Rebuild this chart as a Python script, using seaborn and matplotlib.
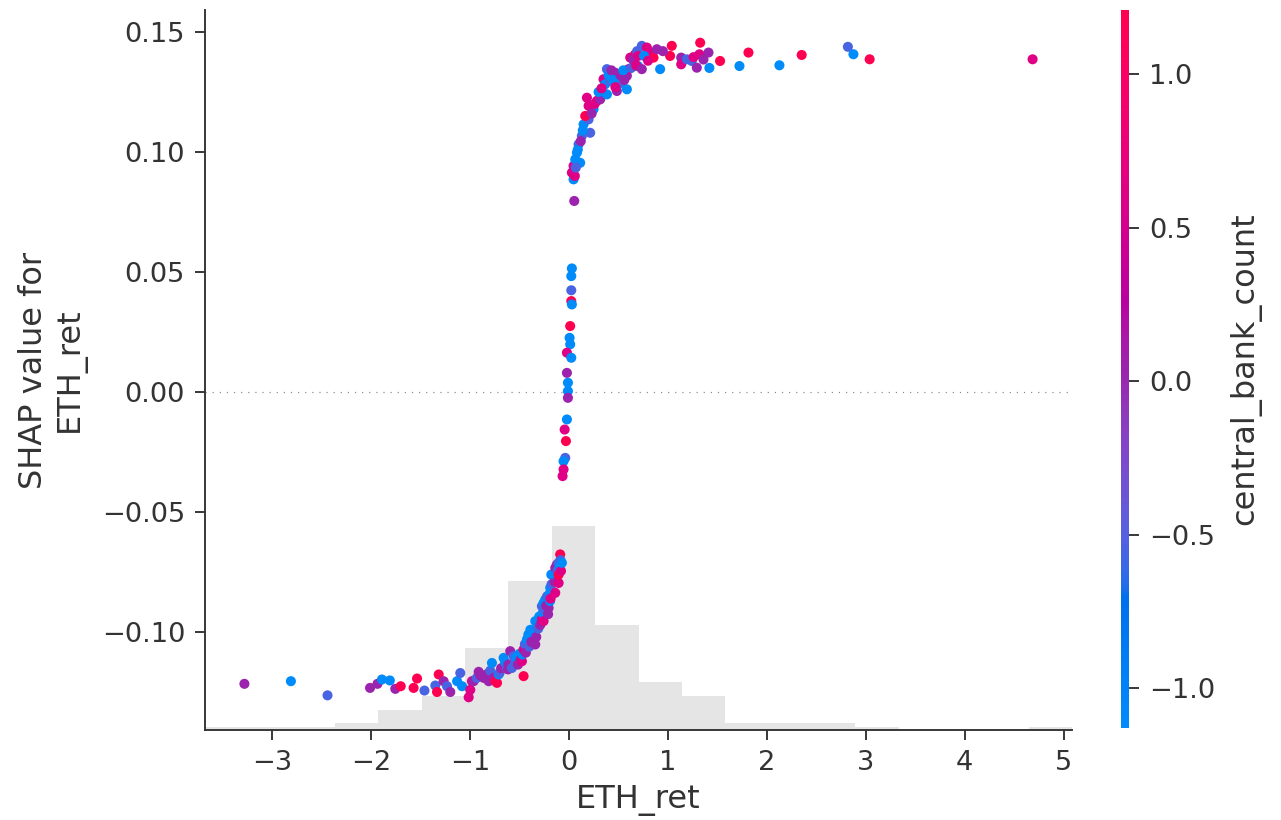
import numpy as np
import pandas as pd
import matplotlib
matplotlib.use("Agg")
import matplotlib.pyplot as plt
from matplotlib.colors import LinearSegmentedColormap, Normalize
from matplotlib.cm import ScalarMappable
import seaborn as sns

# ---- data: ETH return (x), SHAP value for ETH_ret (y), central_bank_count (colour) ----
eth_ret = [
    # far left tail
    -3.28, -2.81, -2.44, -2.01, -1.935, -1.89, -1.81, -1.755, -1.70, -1.57, -1.535,
    -1.46, -1.35, -1.333, -1.316, -1.266, -1.232, -1.199, -1.13, -1.098, -1.08,
    # lower plateau
    -1.013, -0.997, -0.98, -0.963, -0.93, -0.912, -0.895, -0.862, -0.845, -0.83, -0.811, -0.795,
    -0.778, -0.761, -0.744, -0.727, -0.71, -0.70, -0.685, -0.66, -0.645, -0.626, -0.615, -0.612,
    # lower rise
    -0.593, -0.576, -0.559, -0.545, -0.53, -0.515, -0.50, -0.49, -0.475, -0.47, -0.458, -0.458,
    -0.445, -0.435, -0.424, -0.41, -0.40, -0.39, -0.38, -0.357, -0.34, -0.34, -0.33, -0.32,
    -0.31, -0.30, -0.29, -0.273, -0.273, -0.265, -0.256, -0.256, -0.245, -0.239, -0.23, -0.22,
    -0.205, -0.21, -0.195, -0.189, -0.19, -0.185, -0.178, -0.175,
    # top of lower branch
    -0.155, -0.145, -0.138, -0.138, -0.13, -0.121, -0.121, -0.115, -0.104, -0.104, -0.104,
    -0.095, -0.088, -0.085, -0.08, -0.071,
    # vertical strip around zero
    0.03, 0.024, 0.024, 0.024, 0.03, 0.013, 0.007, 0.013, -0.02, 0.024, -0.02, -0.01, -0.01,
    -0.01, -0.02, -0.043, -0.03, -0.037, -0.054, -0.054, -0.064,
    # upper rise
    0.054, 0.047, 0.03, 0.047, 0.114, 0.064, 0.081, 0.098, 0.131, 0.215, 0.148, 0.199, 0.165,
    0.249, 0.199, 0.182, 0.06, 0.07, 0.09, 0.12, 0.14, 0.23, 0.26,
    # upper bend
    0.283, 0.316, 0.35, 0.367, 0.384, 0.384, 0.418, 0.468, 0.485, 0.502, 0.535, 0.586, 0.586,
    0.603, 0.62, 0.67, 0.698, 0.30, 0.33, 0.40, 0.43, 0.45, 0.47, 0.52, 0.55, 0.56, 0.63, 0.65,
    0.68, 0.69, 0.70,
    # upper plateau
    0.737, 0.737, 0.788, 0.822, 0.855, 0.889, 0.922, 1.023, 1.04, 1.135, 1.135, 0.76, 0.80, 0.95,
    1.192, 1.242, 1.26, 1.293, 1.32, 1.327, 1.36, 1.411, 1.42, 1.528,
    # far right tail
    1.724, 1.815, 2.128, 2.353, 2.82, 2.876, 3.04, 4.687,
]

shap_eth_ret = [
    -0.1215, -0.1204, -0.1263, -0.1232, -0.1215, -0.1197, -0.1201, -0.1236, -0.1225, -0.1232, -0.1193,
    -0.1243, -0.1222, -0.1249, -0.1176, -0.1204, -0.1225, -0.1249, -0.1204, -0.1170, -0.1225,
    -0.1271, -0.1240, -0.1204, -0.1204, -0.1190, -0.1165, -0.1180, -0.1190, -0.1190, -0.1175, -0.1204, -0.1160,
    -0.1128, -0.1190, -0.1204, -0.1211, -0.1176, -0.1169, -0.1150, -0.1107, -0.1125, -0.1149, -0.1155, -0.1135,
    -0.1079, -0.1149, -0.1100, -0.1120, -0.1105, -0.1135, -0.1090, -0.1115, -0.1121, -0.1093, -0.1183, -0.1072,
    -0.1050, -0.1085, -0.1030, -0.1010, -0.1060, -0.0990, -0.1040, -0.0996, -0.1051, -0.0954, -0.1020, -0.0965,
    -0.0985, -0.0935, -0.0970, -0.0947, -0.0892, -0.0920, -0.0878, -0.0954, -0.0905, -0.0864, -0.0890, -0.0850,
    -0.0899, -0.0925, -0.0840, -0.0815, -0.0870, -0.0860, -0.0760, -0.0800,
    -0.0760, -0.0790, -0.0732, -0.0836, -0.0770, -0.0718, -0.0788, -0.0745, -0.0795, -0.0711, -0.0760,
    -0.0725, -0.0676, -0.0700, -0.0745, -0.0711,
    0.0515, 0.0483, 0.0424, 0.0379, 0.0365, 0.0275, 0.0226, 0.0199, 0.0164, 0.0143, 0.0080, 0.0039, 0.0004,
    -0.0024, -0.0114, -0.0156, -0.0204, -0.0274, -0.0288, -0.0322, -0.0350,
    0.0796, 0.0886, 0.0914, 0.0942, 0.0955, 0.0969, 0.0997, 0.1032, 0.1067, 0.1080, 0.1115, 0.1136, 0.1150,
    0.1178, 0.1192, 0.1226, 0.0900, 0.0935, 0.1010, 0.1045, 0.1090, 0.1160, 0.1200,
    0.1213, 0.1219, 0.1303, 0.1282, 0.1345, 0.1240, 0.1296, 0.1330, 0.1254, 0.1282, 0.1289, 0.1317, 0.1261,
    0.1345, 0.1393, 0.1407, 0.1358, 0.1250, 0.1265, 0.1320, 0.1340, 0.1300, 0.1270, 0.1320, 0.1340, 0.1300,
    0.1350, 0.1385, 0.1360, 0.1420, 0.1400,
    0.1442, 0.1345, 0.1435, 0.1414, 0.1393, 0.1428, 0.1345, 0.1400, 0.1442, 0.1393, 0.1365, 0.1400, 0.1380, 0.1420,
    0.1386, 0.1379, 0.1395, 0.1351, 0.1407, 0.1455, 0.1385, 0.1414, 0.1350, 0.1379,
    0.1358, 0.1414, 0.1361, 0.1404, 0.1438, 0.1407, 0.1386, 0.1386,
]

central_bank_count = [
    0.04, -1.13, -0.55, 0.04, 0.04, -1.13, -1.13, 0.04, 1.21, 1.21, 1.21,
    -0.55, -0.55, 1.21, 1.21, 0.04, -0.55, 0.04, -1.13, -0.55, -1.13,
    0.63, 0.63, 0.63, 0.04, -0.55, 0.04, 0.04, 0.04, 0.04, 0.04, 0.04, -0.55,
    -1.13, 0.04, 1.21, 1.21, -1.13, -0.55, 0.04, -1.13, -1.13, -0.55, 0.04, 0.04,
    0.04, -0.55, -0.55, -0.55, -1.13, 0.04, -1.13, 0.04, 0.63, -1.13, 1.21, 0.63,
    -0.55, 0.04, -1.13, -1.13, -0.55, -1.13, 0.04, -1.13, 0.04, -1.13, 0.04, -1.13,
    -0.55, -1.13, 0.04, 0.63, -0.55, -1.13, -1.13, 0.63, -0.55, -1.13, 0.04, -0.55,
    0.04, 0.04, -1.13, -1.13, -1.13, 0.63, -1.13, -0.55,
    -1.13, 0.04, 0.04, 0.63, -1.13, 0.04, 0.04, -0.55, 0.63, -0.55, 1.21,
    -1.13, 1.21, -0.55, 0.63, -1.13,
    -1.13, -1.13, -0.55, 1.21, -1.13, 1.21, -1.13, -1.13, 0.63, -1.13, 0.04, -1.13, -1.13,
    0.04, -1.13, 0.63, 1.21, -0.55, -1.13, 0.63, 0.63,
    0.04, -1.13, 0.63, 0.63, -1.13, -1.13, -1.13, -0.55, -0.55, -0.55, -1.13, -0.55, 1.21,
    -1.13, 0.63, 0.63, 0.63, -0.55, -1.13, 0.04, -1.13, 0.04, 0.63,
    0.63, 0.04, 0.63, -1.13, -0.55, -1.13, -0.55, 0.04, 0.04, -1.13, -0.55, 0.04, -1.13,
    0.63, 0.63, 0.63, -1.13, -1.13, 0.63, -1.13, 0.04, -1.13, 0.63, 0.04, -1.13, 0.04,
    -0.55, 0.04, 0.63, -0.55, 0.63,
    -0.55, 0.04, 0.63, 0.63, 1.21, 0.04, -1.13, 1.21, 1.21, 0.04, 0.63, -1.13, 0.63, 0.04,
    -0.55, -0.55, 0.63, 0.04, 0.63, 1.21, 0.04, 0.04, -1.13, 1.21,
    -1.13, 1.21, -1.13, 1.21, -0.55, -1.13, 1.21, 0.63,
]

feature_name = "ETH_ret"
color_name = "central_bank_count"
color_min, color_max = -1.13, 1.21
n_hist_bins = 20


# ---- blue -> red colormap interpolated in LCh space ----
def lch_to_rgb(l, c, h):
    a, b = c * np.cos(h), c * np.sin(h)
    fy = (l + 16.0) / 116.0
    fx, fz = fy + a / 500.0, fy - b / 200.0

    def finv(t):
        return np.where(t > 6 / 29, t ** 3, 3 * (6 / 29) ** 2 * (t - 4 / 29))

    xyz = np.array([0.95047 * finv(fx), finv(fy), 1.08883 * finv(fz)])
    m = np.array([[3.2404542, -1.5371385, -0.4985314],
                  [-0.9692660, 1.8760108, 0.0415560],
                  [0.0556434, -0.2040259, 1.0572252]])
    lin = m @ xyz
    lin = np.clip(lin, 0, None)
    rgb = np.where(lin <= 0.0031308, 12.92 * lin, 1.055 * lin ** (1 / 2.4) - 0.055)
    return np.clip(rgb, 0, 1)


blue_lch = [54.0, 70.0, 4.6588]
red_lch = [54.0, 90.0, 0.35470565 + 2 * np.pi]
l_mid = 40.0
nsteps = 100
l_vals = list(np.linspace(blue_lch[0], l_mid, nsteps // 2)) + list(np.linspace(l_mid, red_lch[0], nsteps // 2))
c_vals = np.linspace(blue_lch[1], red_lch[1], nsteps)
h_vals = np.linspace(blue_lch[2], red_lch[2], nsteps)
red_blue = LinearSegmentedColormap.from_list(
    "red_blue", [lch_to_rgb(l, c, h) for l, c, h in zip(l_vals, c_vals, h_vals)]
)

df = pd.DataFrame({feature_name: eth_ret, "shap": shap_eth_ret, color_name: central_bank_count})

# ---- figure ----
sns.set_style("ticks")
plt.rcParams["font.family"] = ["DejaVu Sans"]
axis_color = "#333333"
tick_size, label_size = 11.5, 13.5

dpi = 170.8
fig = plt.figure(figsize=(1281 / dpi, 820 / dpi), dpi=dpi)
ax = fig.add_axes([205 / 1281, 90 / 820, 867 / 1281, 720 / 820])
cax = fig.add_axes([1121 / 1281, 92 / 820, 8 / 1281, 718 / 820])

xmin, xmax = df[feature_name].min(), df[feature_name].max()
xpad = (xmax - xmin) / 20
xlim = (xmin - xpad, xmax + xpad)

# background histogram of the feature on a twin axis
ax2 = ax.twinx()
sns.histplot(x=df[feature_name].to_numpy(), bins=n_hist_bins, binrange=xlim, stat="count",
             color="#000000", alpha=0.1, linewidth=0, ax=ax2)
ax2.set_ylim(0, len(df))
ax2.set_yticks([])
ax2.set_ylabel("")
for s in ax2.spines.values():
    s.set_visible(False)
ax.set_zorder(ax2.get_zorder() + 1)
ax.patch.set_visible(False)

norm = Normalize(vmin=color_min, vmax=color_max)
ax.axhline(0, color="#888888", lw=0.5, dashes=(1, 5), zorder=-1)
sns.scatterplot(data=df, x=feature_name, y="shap", hue=color_name, palette=red_blue,
                hue_norm=norm, s=18, linewidth=0, alpha=1, legend=False, ax=ax)

ax.set_xlim(*xlim)
ymin, ymax = df["shap"].min(), df["shap"].max()
ypad = (ymax - ymin) / 20
ax.set_ylim(ymin - ypad, ymax + ypad)

ax.set_xlabel(feature_name, fontsize=label_size, color=axis_color)
ax.set_ylabel("SHAP value for\n" + feature_name, fontsize=label_size, color=axis_color, labelpad=6.5)
ax.tick_params(color=axis_color, labelcolor=axis_color, labelsize=tick_size, length=4.2, pad=4.2)
ax.spines["top"].set_visible(False)
ax.spines["right"].set_visible(False)
ax.spines["left"].set_color(axis_color)
ax.spines["bottom"].set_color(axis_color)

cb = fig.colorbar(ScalarMappable(norm=norm, cmap=red_blue), cax=cax)
cb.outline.set_visible(False)
cb.set_label(color_name, size=label_size, color=axis_color, labelpad=6)
cb.ax.tick_params(labelsize=tick_size, color=axis_color, labelcolor=axis_color, length=4.2, pad=4.2)

fig.savefig("out.png", dpi=dpi)
